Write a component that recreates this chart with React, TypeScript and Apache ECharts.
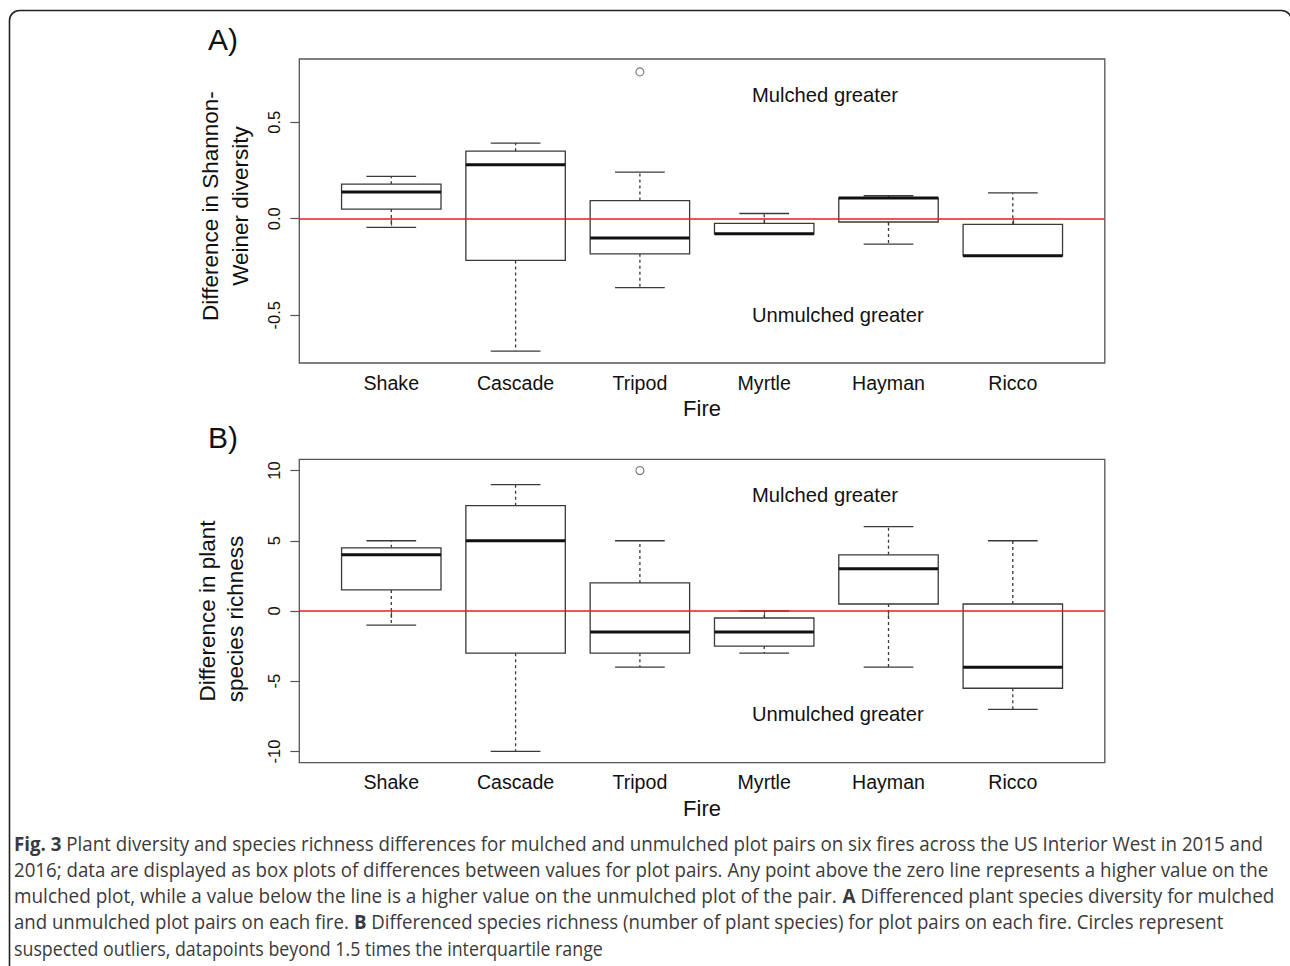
import React, { useEffect, useRef } from "react";
import * as echarts from "echarts";

// ---------- data ----------
const fires = ["Shake", "Cascade", "Tripod", "Myrtle", "Hayman", "Ricco"];

// Panel A: difference in Shannon-Weiner diversity
const divLow = [-0.045, -0.686, -0.357, -0.081, -0.132, -0.192];
const divQ1 = [0.05, -0.216, -0.182, -0.078, -0.017, -0.192];
const divMedian = [0.138, 0.28, -0.1, -0.078, 0.108, -0.192];
const divQ3 = [0.179, 0.35, 0.094, -0.024, 0.108, -0.029];
const divHigh = [0.22, 0.392, 0.242, 0.027, 0.119, 0.134];
const divOutliers = [[3, 0.761]];
const divTicks = [-0.5, 0, 0.5];

// Panel B: difference in plant species richness
const richLow = [-1, -10, -4, -3, -4, -7];
const richQ1 = [1.5, -3, -3, -2.5, 0.5, -5.5];
const richMedian = [4, 5, -1.5, -1.5, 3, -4];
const richQ3 = [4.5, 7.5, 2, -0.5, 4, 0.5];
const richHigh = [5, 9, 5, 0, 6, 5];
const richOutliers = [[3, 10]];
const richTicks = [-10, -5, 0, 5, 10];

const captionLines = [
  "{b|Fig. 3} Plant diversity and species richness differences for mulched and unmulched plot pairs on six fires across the US Interior West in 2015 and",
  "2016; data are displayed as box plots of differences between values for plot pairs. Any point above the zero line represents a higher value on the",
  "mulched plot, while a value below the line is a higher value on the unmulched plot of the pair. {b|A} Differenced plant species diversity for mulched",
  "and unmulched plot pairs on each fire. {b|B} Differenced species richness (number of plant species) for plot pairs on each fire. Circles represent",
  "suspected outliers, datapoints beyond 1.5 times the interquartile range",
];
const captionEnds = [1263, 1269, 1275, 1224, 603];

// ---------- helpers ----------
const F = "'Liberation Sans', Arial, Helvetica, sans-serif";
const CAP_FONT = "'Open Sans', 'Noto Sans', sans-serif";
const CAP_SIZE = 19.5;
const xTicks = fires.map((_, i) => i + 1);

function buildBoxData(lo: number[], q1: number[], md: number[], q3: number[], hi: number[]) {
  return fires.map((_, i) => [i + 1, lo[i], q1[i], md[i], q3[i], hi[i]]);
}

function renderBox(params: any, api: any) {
  const x = api.value(0);
  const lo = api.value(1), q1 = api.value(2), md = api.value(3), q3 = api.value(4), hi = api.value(5);
  const cx = api.coord([x, md])[0];
  const y = (v: number) => api.coord([x, v])[1];
  const hb = api.size([0.4, 0])[0];
  const hc = api.size([0.2, 0])[0];
  const stroke = "#3a3a3a";
  const line = (x1: number, y1: number, x2: number, y2: number, style: any) => ({
    type: "line",
    shape: { x1, y1, x2, y2 },
    style: Object.assign({ stroke, lineWidth: 1.3, fill: null }, style),
  });
  return {
    type: "group",
    children: [
      line(cx, y(q3), cx, y(hi), { lineDash: [3, 3] }),
      line(cx, y(q1), cx, y(lo), { lineDash: [3, 3] }),
      line(cx - hc, y(hi), cx + hc, y(hi), {}),
      line(cx - hc, y(lo), cx + hc, y(lo), {}),
      {
        type: "rect",
        shape: { x: cx - hb, y: y(q3), width: 2 * hb, height: y(q1) - y(q3) },
        style: { fill: "#fff", stroke, lineWidth: 1.3 },
      },
      line(cx - hb, y(md), cx + hb, y(md), { stroke: "#111", lineWidth: 3 }),
    ],
  };
}

function measureCaption(line: string): number {
  const ctx = document.createElement("canvas").getContext("2d")!;
  const parts = line.split(/(\{b\|[^}]*\})/).filter((p) => p.length > 0);
  let w = 0;
  for (const p of parts) {
    const bold = p.startsWith("{b|");
    const t = bold ? p.slice(3, -1) : p;
    ctx.font = `${bold ? "bold " : ""}${CAP_SIZE}px ${CAP_FONT}`;
    w += ctx.measureText(t).width;
  }
  return w;
}

function xAxis(gi: number) {
  return {
    type: "value",
    gridIndex: gi,
    min: 0.26,
    max: 6.74,
    axisLine: { show: false },
    splitLine: { show: false },
    axisTick: { show: true, inside: false, length: 7, customValues: xTicks, lineStyle: { color: "#555", width: 1.2 } },
    axisLabel: {
      show: true,
      customValues: xTicks,
      formatter: (v: number) => fires[Math.round(v) - 1] ?? "",
      fontSize: 19.6,
      fontFamily: F,
      color: "#111",
      margin: 9.5,
    },
  };
}

function yAxis(gi: number, min: number, max: number, ticks: number[], fmt: (v: number) => string) {
  return {
    type: "value",
    gridIndex: gi,
    min,
    max,
    axisLine: { show: false },
    splitLine: { show: false },
    axisTick: { show: true, inside: false, length: 9, customValues: ticks, lineStyle: { color: "#555", width: 1.2 } },
    axisLabel: {
      show: true,
      customValues: ticks,
      formatter: fmt,
      rotate: 90,
      fontSize: 16.5,
      fontFamily: F,
      color: "#111",
      margin: 17,
    },
  };
}

function txt(text: string, x: number, y: number, size: number, extra: any = {}) {
  return {
    type: "text",
    x,
    y,
    style: Object.assign(
      { text, fontSize: size, fontFamily: F, fill: "#111", align: "left", verticalAlign: "middle" },
      extra.style || {}
    ),
    rotation: extra.rotation || 0,
  };
}

export default function App() {
  const ref = useRef<HTMLDivElement>(null);
  useEffect(() => {
    const chart = echarts.init(ref.current!, null, { renderer: "svg" });

    const caption = captionLines.map((line, i) => {
      const w = measureCaption(line);
      const target = captionEnds[i] - 14;
      return {
        type: "text",
        x: 14,
        y: 843.5 + 26.05 * i,
        scaleX: w > 0 ? target / w : 1,
        style: {
          text: line,
          fontSize: CAP_SIZE,
          fontFamily: CAP_FONT,
          fill: "#3a3a3a",
          align: "left",
          verticalAlign: "middle",
          rich: { b: { fontWeight: "bold", fontSize: CAP_SIZE, fontFamily: CAP_FONT, fill: "#3a3a3a" } },
        },
      };
    });

    const redLine = {
      silent: true,
      symbol: "none",
      label: { show: false },
      lineStyle: { color: "#e32020", width: 1.6, type: "solid" },
      data: [{ yAxis: 0 }],
    };

    const option: any = {
      animation: false,
      backgroundColor: "#fff",
      textStyle: { fontFamily: F },
      grid: [
        { left: 299.3, top: 59, width: 805.5, height: 304, show: true, borderColor: "#555", borderWidth: 1.3, backgroundColor: "transparent" },
        { left: 299.3, top: 459.3, width: 805.5, height: 303.4, show: true, borderColor: "#555", borderWidth: 1.3, backgroundColor: "transparent" },
      ],
      xAxis: [xAxis(0), xAxis(1)],
      yAxis: [
        yAxis(0, -0.748, 0.828, divTicks, (v: number) => v.toFixed(1)),
        yAxis(1, -10.8, 10.8, richTicks, (v: number) => String(Math.round(v))),
      ],
      series: [
        {
          type: "custom",
          xAxisIndex: 0,
          yAxisIndex: 0,
          renderItem: renderBox,
          encode: { x: 0, y: [1, 2, 3, 4, 5] },
          data: buildBoxData(divLow, divQ1, divMedian, divQ3, divHigh),
          z: 2,
        },
        {
          type: "scatter",
          xAxisIndex: 0,
          yAxisIndex: 0,
          symbol: "circle",
          symbolSize: 8,
          itemStyle: { color: "#fff", borderColor: "#555", borderWidth: 1.1 },
          data: divOutliers,
          z: 5,
          markLine: redLine,
        },
        {
          type: "custom",
          xAxisIndex: 1,
          yAxisIndex: 1,
          renderItem: renderBox,
          encode: { x: 0, y: [1, 2, 3, 4, 5] },
          data: buildBoxData(richLow, richQ1, richMedian, richQ3, richHigh),
          z: 2,
        },
        {
          type: "scatter",
          xAxisIndex: 1,
          yAxisIndex: 1,
          symbol: "circle",
          symbolSize: 8,
          itemStyle: { color: "#fff", borderColor: "#555", borderWidth: 1.1 },
          data: richOutliers,
          z: 5,
          markLine: redLine,
        },
      ],
      graphic: [
        {
          type: "rect",
          shape: { x: 9.5, y: 10.5, width: 1282, height: 1000, r: 10 },
          style: { fill: "none", stroke: "#222", lineWidth: 1.6 },
          silent: true,
        },
        txt("A)", 208, 39, 30),
        txt("B)", 208, 437, 30),
        txt("Difference in Shannon-", 210, 206, 22.5, { rotation: Math.PI / 2, style: { align: "center" } }),
        txt("Weiner diversity", 240, 206, 22.5, { rotation: Math.PI / 2, style: { align: "center" } }),
        txt("Difference in plant", 207, 611, 22.5, { rotation: Math.PI / 2, style: { align: "center" } }),
        txt("species richness", 235, 619, 22.5, { rotation: Math.PI / 2, style: { align: "center" } }),
        txt("Fire", 702, 408.5, 22, { style: { align: "center" } }),
        txt("Fire", 702, 808.5, 22, { style: { align: "center" } }),
        txt("Mulched greater", 752, 95, 20.2),
        txt("Unmulched greater", 752, 315, 20.2),
        txt("Mulched greater", 752, 494.5, 20.2),
        txt("Unmulched greater", 752, 713.5, 20.2),
        ...caption,
      ],
    };

    chart.setOption(option);
    return () => chart.dispose();
  }, []);

  return (
    <div
      ref={ref}
      style={{ position: "absolute", left: 0, top: 0, width: 1290, height: 966, background: "#fff" }}
    />
  );
}
